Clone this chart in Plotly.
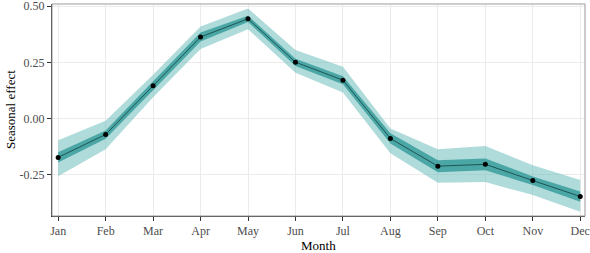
import plotly.graph_objects as go

months = ["Jan", "Feb", "Mar", "Apr", "May", "Jun", "Jul", "Aug", "Sep", "Oct", "Nov", "Dec"]
effect = [-0.173, -0.071, 0.146, 0.363, 0.444, 0.251, 0.171, -0.089, -0.212, -0.204, -0.276, -0.347]
inner_lo = [-0.196, -0.090, 0.126, 0.343, 0.430, 0.234, 0.153, -0.111, -0.239, -0.230, -0.296, -0.370]
inner_hi = [-0.150, -0.053, 0.166, 0.383, 0.458, 0.266, 0.188, -0.066, -0.186, -0.178, -0.258, -0.325]
outer_lo = [-0.257, -0.137, 0.095, 0.310, 0.398, 0.204, 0.116, -0.155, -0.286, -0.283, -0.341, -0.415]
outer_hi = [-0.097, -0.010, 0.195, 0.410, 0.490, 0.305, 0.231, -0.044, -0.137, -0.122, -0.208, -0.274]
y_ticks = [-0.25, 0.0, 0.25, 0.50]
y_tick_labels = ["-0.25", "0.00", "0.25", "0.50"]

x = list(range(len(months)))
FONT = "Liberation Serif, DejaVu Serif, serif"

fig = go.Figure()
fig.add_trace(go.Scatter(x=x, y=outer_lo, mode="lines", line=dict(width=0), hoverinfo="skip", showlegend=False))
fig.add_trace(go.Scatter(x=x, y=outer_hi, mode="lines", line=dict(width=0), fill="tonexty",
                         fillcolor="rgba(110,190,188,0.55)", hoverinfo="skip", showlegend=False))
fig.add_trace(go.Scatter(x=x, y=inner_lo, mode="lines", line=dict(width=0), hoverinfo="skip", showlegend=False))
fig.add_trace(go.Scatter(x=x, y=inner_hi, mode="lines", line=dict(width=0), fill="tonexty",
                         fillcolor="rgba(40,150,148,0.75)", hoverinfo="skip", showlegend=False))
fig.add_trace(go.Scatter(x=x, y=effect, mode="lines+markers", line=dict(color="#1d5553", width=1),
                         marker=dict(color="black", size=5), showlegend=False))

fig.add_hline(y=0, line=dict(color="#aaaaaa", width=1), layer="below")

fig.add_shape(type="rect", xref="paper", yref="paper", x0=0, x1=1, y0=0, y1=1,
              line=dict(color="#999999", width=1), fillcolor="rgba(0,0,0,0)", layer="above")

fig.add_annotation(text="Month", xref="paper", yref="paper", x=0.5, y=0, yshift=-20,
                   xanchor="center", yanchor="top", showarrow=False,
                   font=dict(family=FONT, size=13, color="black"))
fig.add_annotation(text="Seasonal effect", xref="paper", yref="paper", x=0, xshift=-42, y=0.5,
                   xanchor="center", yanchor="middle", textangle=-90, showarrow=False,
                   font=dict(family=FONT, size=13, color="black"))

fig.update_layout(
    width=590, height=253,
    margin=dict(l=52, r=5, t=4, b=37, autoexpand=False),
    paper_bgcolor="white", plot_bgcolor="white",
    font=dict(family=FONT, size=12, color="#4d4d4d"),
    xaxis=dict(
        range=[-0.13, 11.1], tickvals=x, ticktext=months, automargin=False,
        ticklabeloverflow="allow",
        showgrid=True, gridcolor="#ebebeb", gridwidth=1, zeroline=False,
        showline=True, linecolor="#333333", linewidth=1,
        ticks="outside", ticklen=4, tickcolor="#333333",
    ),
    yaxis=dict(
        range=[-0.434, 0.51], tickvals=y_ticks, ticktext=y_tick_labels, automargin=False,
        ticklabeloverflow="allow",
        showgrid=True, gridcolor="#ebebeb", gridwidth=1, zeroline=False,
        showline=True, linecolor="#333333", linewidth=1,
        ticks="outside", ticklen=4, tickcolor="#333333",
    ),
)

fig.write_html("out.html", config={"displayModeBar": False},
               post_script="document.body.style.margin='0';document.body.style.overflow='hidden';")
